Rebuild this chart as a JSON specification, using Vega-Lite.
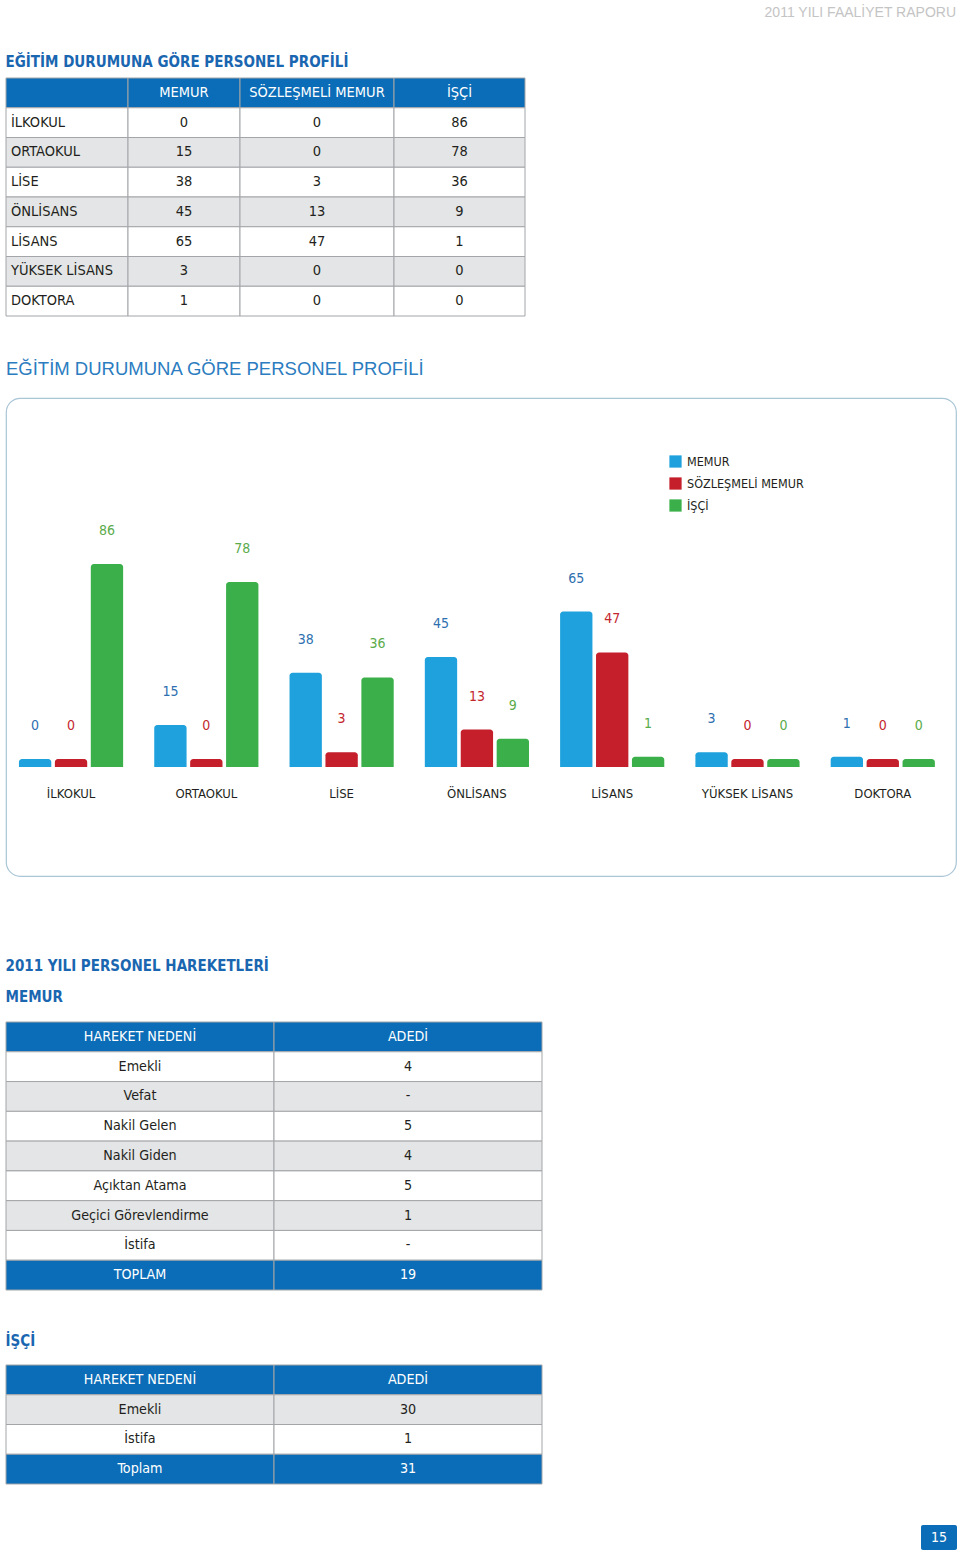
{
  "$schema": "https://vega.github.io/schema/vega-lite/v6.json",
  "background": "white",
  "padding": {"left": 5, "top": 5, "right": 0, "bottom": 0},
  "datasets": {
    "t1": [
      {"n": 0, "a": "", "b": "MEMUR", "c": "SÖZLEŞMELİ MEMUR", "d": "İŞÇİ"},
      {"n": 1, "a": "İLKOKUL", "b": "0", "c": "0", "d": "86"},
      {"n": 2, "a": "ORTAOKUL", "b": "15", "c": "0", "d": "78"},
      {"n": 3, "a": "LİSE", "b": "38", "c": "3", "d": "36"},
      {"n": 4, "a": "ÖNLİSANS", "b": "45", "c": "13", "d": "9"},
      {"n": 5, "a": "LİSANS", "b": "65", "c": "47", "d": "1"},
      {"n": 6, "a": "YÜKSEK LİSANS", "b": "3", "c": "0", "d": "0"},
      {"n": 7, "a": "DOKTORA", "b": "1", "c": "0", "d": "0"}
    ],
    "edu": [
      {"kategori": "İLKOKUL", "grup": "MEMUR", "deger": 0},
      {"kategori": "İLKOKUL", "grup": "SÖZLEŞMELİ MEMUR", "deger": 0},
      {"kategori": "İLKOKUL", "grup": "İŞÇİ", "deger": 86},
      {"kategori": "ORTAOKUL", "grup": "MEMUR", "deger": 15},
      {"kategori": "ORTAOKUL", "grup": "SÖZLEŞMELİ MEMUR", "deger": 0},
      {"kategori": "ORTAOKUL", "grup": "İŞÇİ", "deger": 78},
      {"kategori": "LİSE", "grup": "MEMUR", "deger": 38},
      {"kategori": "LİSE", "grup": "SÖZLEŞMELİ MEMUR", "deger": 3},
      {"kategori": "LİSE", "grup": "İŞÇİ", "deger": 36},
      {"kategori": "ÖNLİSANS", "grup": "MEMUR", "deger": 45},
      {"kategori": "ÖNLİSANS", "grup": "SÖZLEŞMELİ MEMUR", "deger": 13},
      {"kategori": "ÖNLİSANS", "grup": "İŞÇİ", "deger": 9},
      {"kategori": "LİSANS", "grup": "MEMUR", "deger": 65},
      {"kategori": "LİSANS", "grup": "SÖZLEŞMELİ MEMUR", "deger": 47},
      {"kategori": "LİSANS", "grup": "İŞÇİ", "deger": 1},
      {"kategori": "YÜKSEK LİSANS", "grup": "MEMUR", "deger": 3},
      {"kategori": "YÜKSEK LİSANS", "grup": "SÖZLEŞMELİ MEMUR", "deger": 0},
      {"kategori": "YÜKSEK LİSANS", "grup": "İŞÇİ", "deger": 0},
      {"kategori": "DOKTORA", "grup": "MEMUR", "deger": 1},
      {"kategori": "DOKTORA", "grup": "SÖZLEŞMELİ MEMUR", "deger": 0},
      {"kategori": "DOKTORA", "grup": "İŞÇİ", "deger": 0}
    ],
    "t2": [
      {"n": 0, "a": "HAREKET NEDENİ", "b": "ADEDİ"},
      {"n": 1, "a": "Emekli", "b": "4"},
      {"n": 2, "a": "Vefat", "b": "-"},
      {"n": 3, "a": "Nakil Gelen", "b": "5"},
      {"n": 4, "a": "Nakil Giden", "b": "4"},
      {"n": 5, "a": "Açıktan Atama", "b": "5"},
      {"n": 6, "a": "Geçici Görevlendirme", "b": "1"},
      {"n": 7, "a": "İstifa", "b": "-"},
      {"n": 8, "a": "TOPLAM", "b": "19"}
    ],
    "t3": [
      {"n": 0, "a": "HAREKET NEDENİ", "b": "ADEDİ"},
      {"n": 1, "a": "Emekli", "b": "30"},
      {"n": 2, "a": "İstifa", "b": "1"},
      {"n": 3, "a": "Toplam", "b": "31"}
    ]
  },
  "spacing": 23,
  "vconcat": [
    {
      "width": 950, "height": 1,
      "title": {"text": "2011 YILI FAALİYET RAPORU", "anchor": "end", "font": "Liberation Sans", "fontSize": 14, "fontWeight": "normal", "color": "#c4c4c4", "offset": 0},
      "data": {"values": [{"s": " "}]},
      "mark": {"type": "text"},
      "encoding": {"text": {"field": "s"}}
    },
    {
      "spacing": 41,
      "vconcat": [
        {
          "title": {"text": "EĞİTİM DURUMUNA GÖRE PERSONEL PROFİLİ", "anchor": "start", "font": "DejaVu Sans Condensed, Roboto, sans-serif", "fontSize": 15, "fontWeight": "bold", "color": "#1a66b0", "offset": 8},
          "spacing": 0,
          "bounds": "flush",
          "hconcat": [
            {"width": 122, "height": 238, "data": {"name": "t1"},
             "encoding": {"y": {"field": "n", "type": "ordinal", "axis": null, "scale": {"paddingInner": 0, "paddingOuter": 0}}},
             "layer": [
               {"mark": {"type": "rect", "stroke": "#a3a5a8", "strokeWidth": 1}, "encoding": {"fill": {"condition": [{"test": "datum.n == 0", "value": "#0b6db7"}, {"test": "datum.n % 2 == 0", "value": "#e4e5e6"}], "value": "#ffffff"}}},
               {"mark": {"type": "text", "fontSize": 14.5, "align": "left"}, "encoding": {"x": {"value": 5}, "text": {"field": "a"}, "color": {"condition": {"test": "datum.n == 0", "value": "#ffffff"}, "value": "#231f20"}}}
             ]},
            {"width": 112, "height": 238, "data": {"name": "t1"},
             "encoding": {"y": {"field": "n", "type": "ordinal", "axis": null, "scale": {"paddingInner": 0, "paddingOuter": 0}}},
             "layer": [
               {"mark": {"type": "rect", "stroke": "#a3a5a8", "strokeWidth": 1}, "encoding": {"fill": {"condition": [{"test": "datum.n == 0", "value": "#0b6db7"}, {"test": "datum.n % 2 == 0", "value": "#e4e5e6"}], "value": "#ffffff"}}},
               {"mark": {"type": "text", "fontSize": 14.5}, "encoding": {"text": {"field": "b"}, "color": {"condition": {"test": "datum.n == 0", "value": "#ffffff"}, "value": "#231f20"}}}
             ]},
            {"width": 154, "height": 238, "data": {"name": "t1"},
             "encoding": {"y": {"field": "n", "type": "ordinal", "axis": null, "scale": {"paddingInner": 0, "paddingOuter": 0}}},
             "layer": [
               {"mark": {"type": "rect", "stroke": "#a3a5a8", "strokeWidth": 1}, "encoding": {"fill": {"condition": [{"test": "datum.n == 0", "value": "#0b6db7"}, {"test": "datum.n % 2 == 0", "value": "#e4e5e6"}], "value": "#ffffff"}}},
               {"mark": {"type": "text", "fontSize": 14.5}, "encoding": {"text": {"field": "c"}, "color": {"condition": {"test": "datum.n == 0", "value": "#ffffff"}, "value": "#231f20"}}}
             ]},
            {"width": 131, "height": 238, "data": {"name": "t1"},
             "encoding": {"y": {"field": "n", "type": "ordinal", "axis": null, "scale": {"paddingInner": 0, "paddingOuter": 0}}},
             "layer": [
               {"mark": {"type": "rect", "stroke": "#a3a5a8", "strokeWidth": 1}, "encoding": {"fill": {"condition": [{"test": "datum.n == 0", "value": "#0b6db7"}, {"test": "datum.n % 2 == 0", "value": "#e4e5e6"}], "value": "#ffffff"}}},
               {"mark": {"type": "text", "fontSize": 14.5}, "encoding": {"text": {"field": "d"}, "color": {"condition": {"test": "datum.n == 0", "value": "#ffffff"}, "value": "#231f20"}}}
             ]}
          ]
        },
        {
          "spacing": 81,
          "vconcat": [
            {
              "width": 950, "height": 478,
              "title": {"text": "EĞİTİM DURUMUNA GÖRE PERSONEL PROFİLİ", "anchor": "start", "font": "Liberation Sans", "fontSize": 18.5, "fontWeight": "normal", "color": "#2b7cc0", "offset": 20},
              "view": {"stroke": "#a9c5d6", "strokeWidth": 1.2, "cornerRadius": 14},
              "data": {"name": "edu"},
              "encoding": {
                "x": {"field": "kategori", "type": "nominal", "axis": null, "sort": ["İLKOKUL", "ORTAOKUL", "LİSE", "ÖNLİSANS", "LİSANS", "YÜKSEK LİSANS", "DOKTORA"], "scale": {"paddingInner": 0.23, "paddingOuter": 0.126, "align": 0.38}}
              },
              "layer": [
                {"mark": {"type": "bar", "cornerRadiusTopLeft": 3, "cornerRadiusTopRight": 3},
                 "encoding": {
                   "xOffset": {"field": "grup", "type": "nominal", "sort": ["MEMUR", "SÖZLEŞMELİ MEMUR", "İŞÇİ"], "scale": {"paddingInner": 0.1, "paddingOuter": 0}},
                   "y": {"field": "deger", "type": "quantitative", "axis": null, "scale": {"domain": [-51.5, 159.1], "nice": false, "zero": false}},
                   "y2": {"datum": -3.5},
                   "color": {"field": "grup", "type": "nominal", "scale": {"domain": ["MEMUR", "SÖZLEŞMELİ MEMUR", "İŞÇİ"], "range": ["#1ea1dc", "#c41f2b", "#3bb04a"]},
                     "legend": {"orient": "none", "legendX": 663, "legendY": 57, "title": null, "symbolType": "square", "symbolSize": 150, "symbolStrokeWidth": 0, "labelFont": "DejaVu Sans Condensed, Roboto, sans-serif", "labelFontSize": 12.5, "labelColor": "#231f20", "rowPadding": 9, "padding": 0, "labelOffset": 5}}
                 }},
                {"mark": {"type": "text", "dy": -33, "fontSize": 14},
                 "encoding": {
                   "xOffset": {"field": "grup", "type": "nominal", "sort": ["MEMUR", "SÖZLEŞMELİ MEMUR", "İŞÇİ"], "scale": {"paddingInner": 0.1, "paddingOuter": 0}},
                   "y": {"field": "deger", "type": "quantitative", "axis": null, "scale": {"domain": [-51.5, 159.1], "nice": false, "zero": false}},
                   "text": {"field": "deger", "type": "quantitative"},
                   "color": {"field": "grup", "type": "nominal", "scale": {"domain": ["MEMUR", "SÖZLEŞMELİ MEMUR", "İŞÇİ"], "range": ["#2e6fb0", "#c4262e", "#5aab4a"]}, "legend": null}
                 }},
                {"transform": [{"filter": "datum.grup == 'MEMUR'"}],
                 "mark": {"type": "text", "fontSize": 13, "color": "#231f20"},
                 "encoding": {
                   "y": {"datum": -15.4, "type": "quantitative", "scale": {"domain": [-51.5, 159.1], "nice": false, "zero": false}},
                   "text": {"field": "kategori", "type": "nominal"}
                 }}
              ],
              "resolve": {"scale": {"color": "independent"}}
            },
            {
              "spacing": 42,
              "vconcat": [
                {
                  "title": {"text": "2011 YILI PERSONEL HAREKETLERİ", "subtitle": "MEMUR", "anchor": "start", "font": "DejaVu Sans Condensed, Roboto, sans-serif", "fontSize": 15, "fontWeight": "bold", "color": "#1a66b0", "subtitleFont": "DejaVu Sans Condensed, Roboto, sans-serif", "subtitleFontSize": 15, "subtitleFontWeight": "bold", "subtitleColor": "#1a66b0", "subtitlePadding": 16, "offset": 17},
                  "spacing": 0,
                  "bounds": "flush",
                  "hconcat": [
                    {"width": 268, "height": 268, "data": {"name": "t2"},
                     "encoding": {"y": {"field": "n", "type": "ordinal", "axis": null, "scale": {"paddingInner": 0, "paddingOuter": 0}}},
                     "layer": [
                       {"mark": {"type": "rect", "stroke": "#a3a5a8", "strokeWidth": 1}, "encoding": {"fill": {"condition": [{"test": "datum.n == 0 || datum.n == 8", "value": "#0b6db7"}, {"test": "datum.n % 2 == 0", "value": "#e4e5e6"}], "value": "#ffffff"}}},
                       {"mark": {"type": "text", "fontSize": 14.2}, "encoding": {"text": {"field": "a"}, "color": {"condition": {"test": "datum.n == 0 || datum.n == 8", "value": "#ffffff"}, "value": "#231f20"}}}
                     ]},
                    {"width": 268, "height": 268, "data": {"name": "t2"},
                     "encoding": {"y": {"field": "n", "type": "ordinal", "axis": null, "scale": {"paddingInner": 0, "paddingOuter": 0}}},
                     "layer": [
                       {"mark": {"type": "rect", "stroke": "#a3a5a8", "strokeWidth": 1}, "encoding": {"fill": {"condition": [{"test": "datum.n == 0 || datum.n == 8", "value": "#0b6db7"}, {"test": "datum.n % 2 == 0", "value": "#e4e5e6"}], "value": "#ffffff"}}},
                       {"mark": {"type": "text", "fontSize": 14.2}, "encoding": {"text": {"field": "b"}, "color": {"condition": {"test": "datum.n == 0 || datum.n == 8", "value": "#ffffff"}, "value": "#231f20"}}}
                     ]}
                  ]
                },
                {
                  "spacing": 40,
                  "vconcat": [
                    {
                      "title": {"text": "İŞÇİ", "anchor": "start", "font": "DejaVu Sans Condensed, Roboto, sans-serif", "fontSize": 15, "fontWeight": "bold", "color": "#1a66b0", "offset": 16},
                      "spacing": 0,
                      "bounds": "flush",
                      "hconcat": [
                        {"width": 268, "height": 119, "data": {"name": "t3"},
                         "encoding": {"y": {"field": "n", "type": "ordinal", "axis": null, "scale": {"paddingInner": 0, "paddingOuter": 0}}},
                         "layer": [
                           {"mark": {"type": "rect", "stroke": "#a3a5a8", "strokeWidth": 1}, "encoding": {"fill": {"condition": [{"test": "datum.n == 0 || datum.n == 3", "value": "#0b6db7"}, {"test": "datum.n % 2 == 1", "value": "#e4e5e6"}], "value": "#ffffff"}}},
                           {"mark": {"type": "text", "fontSize": 14.2}, "encoding": {"text": {"field": "a"}, "color": {"condition": {"test": "datum.n == 0 || datum.n == 3", "value": "#ffffff"}, "value": "#231f20"}}}
                         ]},
                        {"width": 268, "height": 119, "data": {"name": "t3"},
                         "encoding": {"y": {"field": "n", "type": "ordinal", "axis": null, "scale": {"paddingInner": 0, "paddingOuter": 0}}},
                         "layer": [
                           {"mark": {"type": "rect", "stroke": "#a3a5a8", "strokeWidth": 1}, "encoding": {"fill": {"condition": [{"test": "datum.n == 0 || datum.n == 3", "value": "#0b6db7"}, {"test": "datum.n % 2 == 1", "value": "#e4e5e6"}], "value": "#ffffff"}}},
                           {"mark": {"type": "text", "fontSize": 14.2}, "encoding": {"text": {"field": "b"}, "color": {"condition": {"test": "datum.n == 0 || datum.n == 3", "value": "#ffffff"}, "value": "#231f20"}}}
                         ]}
                      ]
                    },
                    {
                      "spacing": 0,
                      "bounds": "flush",
                      "hconcat": [
                        {"width": 915, "height": 25, "data": {"values": [{"s": " "}]}, "mark": {"type": "text"}, "encoding": {"text": {"field": "s"}}},
                        {"width": 36, "height": 25, "view": {"fill": "#0b6db7", "stroke": null, "cornerRadius": 2}, "data": {"values": [{"sayfa": "15"}]}, "mark": {"type": "text", "fontSize": 14, "color": "#ffffff"}, "encoding": {"text": {"field": "sayfa"}}}
                      ]
                    }
                  ]
                }
              ]
            }
          ]
        }
      ]
    }
  ],
  "config": {
    "view": {"stroke": null},
    "concat": {"spacing": 0},
    "text": {"font": "DejaVu Sans Condensed, Roboto, sans-serif"}
  }
}
